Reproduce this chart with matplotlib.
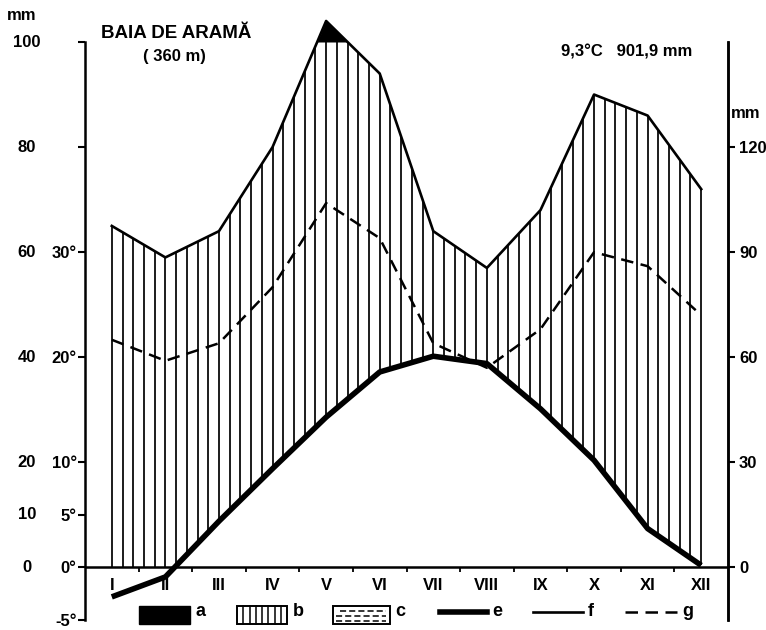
import matplotlib.pyplot as plt
import numpy as np
from matplotlib.patches import Rectangle

# climate data, Baia de Arama (360 m)
months = ['I', 'II', 'III', 'IV', 'V', 'VI', 'VII', 'VIII', 'IX', 'X', 'XI', 'XII']
temp = [-2.8, -0.9, 4.4, 9.4, 14.3, 18.6, 20.1, 19.4, 15.1, 10.2, 3.7, 0.2]
precip = [65, 59, 64, 80, 104, 94, 64, 57, 68, 90, 86, 72]

temp_ticks = [-5, 0, 5, 10, 20, 30]
temp_labels = ['-5°', '0°', '5°', '10°', '20°', '30°']
mm_left_pos = [0, 5, 10, 20, 30, 40, 50]
mm_left_labels = ['0', '10', '20', '40', '60', '80', '100']
mm_right_pos = [0, 10, 20, 30, 40]
mm_right_labels = ['0', '30', '60', '90', '120']

plt.rcParams['font.family'] = ['Liberation Sans', 'DejaVu Sans']
plt.rcParams['font.weight'] = 'bold'
FS = 12

W, H = 766, 630
fig = plt.figure(figsize=(W / 100, H / 100), dpi=100)
ax = fig.add_axes([85 / W, 10 / H, (728 - 85) / W, (620 - 42) / H])

x = np.arange(12)
t = np.array(temp)
f = np.array(precip) / 2.0   # 1 deg = 2 mm
g = np.array(precip) / 3.0   # 1 deg = 3 mm

# vertical hatching between temperature and precipitation
hx = np.arange(0, 11.01, 0.2)
lo = np.maximum(np.interp(hx, x, t), 0)
hi = np.minimum(np.interp(hx, x, f), 50)
ax.vlines(hx, lo, hi, color='black', lw=1.25)

# black area above 100 mm
ax.fill_between(x, 50, f, where=f > 50, interpolate=True, color='black', clip_on=False, lw=0)

ax.plot(x, f, color='black', lw=1.9, clip_on=False)
ax.plot(x, g, color='black', lw=1.8, linestyle=(0, (5, 3)))
ax.plot(x, t, color='black', lw=4.0, solid_capstyle='butt')
ax.axhline(0, color='black', lw=1.8)

ax.set_xlim(-0.5, 11.5)
ax.set_ylim(-5, 50)
for s in ['top', 'bottom']:
    ax.spines[s].set_visible(False)
for s in ['left', 'right']:
    ax.spines[s].set_linewidth(1.8)
ax.set_xticks([])

ax.set_yticks(temp_ticks + [40, 50])
ax.set_yticklabels(temp_labels + ['', ''], fontsize=FS, fontweight='bold')
ax.tick_params(axis='y', direction='out', length=5, width=1.5, pad=1)

for p, lab in zip(mm_left_pos, mm_left_labels):
    ax.text(-0.5 - 58 / 53.6, p, lab, ha='center', va='center', fontsize=FS, fontweight='bold')

ax2 = ax.twinx()
ax2.set_ylim(-5, 50)
ax2.set_yticks(mm_right_pos)
ax2.set_yticklabels(mm_right_labels, fontsize=FS, fontweight='bold')
ax2.tick_params(axis='y', direction='out', length=5, width=1.5, pad=3)
for s in ['top', 'bottom', 'left']:
    ax2.spines[s].set_visible(False)
ax2.spines['right'].set_linewidth(1.8)

# month boundary ticks and labels
ax.vlines(np.arange(0.5, 11, 1), -0.45, 0, color='black', lw=1.3)
for i, m in enumerate(months):
    ax.text(i, -1.75, m, ha='center', va='center', fontsize=FS, fontweight='bold')

# overlay in pixel coordinates for titles and legend
ov = fig.add_axes([0, 0, 1, 1])
ov.set_xlim(0, W)
ov.set_ylim(H, 0)
ov.axis('off')
ov.patch.set_alpha(0)

ov.text(22, 15, 'mm', ha='center', va='center', fontsize=FS, fontweight='bold')
ov.text(746, 113, 'mm', ha='center', va='center', fontsize=FS, fontweight='bold')
ov.text(176, 33, 'BAIA DE ARAMĂ', ha='center', va='center', fontsize=13.5, fontweight='bold')
ov.text(174, 57, '( 360 m)', ha='center', va='center', fontsize=FS, fontweight='bold')
ov.text(627, 52, '9,3°C   901,9 mm', ha='center', va='center', fontsize=FS, fontweight='bold')

# legend
ov.add_patch(Rectangle((139, 606), 51, 18, color='black'))
ov.text(196, 612, 'a', ha='left', va='center', fontsize=13, fontweight='bold')
ov.add_patch(Rectangle((237, 606), 50, 18, fill=False, lw=1.4))
for xx in np.linspace(237, 287, 9)[1:-1]:
    ov.plot([xx, xx], [606, 624], color='black', lw=1.1)
ov.text(293, 612, 'b', ha='left', va='center', fontsize=13, fontweight='bold')
ov.add_patch(Rectangle((333, 606), 57, 18, fill=False, lw=1.4))
for yy, x0 in [(611, 340), (616, 336), (621, 336)]:
    ov.plot([x0, 386], [yy, yy], color='black', lw=1.1, linestyle=(0, (4, 2)))
ov.text(395, 612, 'c', ha='left', va='center', fontsize=13, fontweight='bold')
ov.plot([440, 487], [612, 612], color='black', lw=4.0)
ov.text(492, 612, 'e', ha='left', va='center', fontsize=13, fontweight='bold')
ov.plot([533, 583], [612, 612], color='black', lw=1.9)
ov.text(588, 612, 'f', ha='left', va='center', fontsize=13, fontweight='bold')
ov.plot([625, 677], [612, 612], color='black', lw=1.8, linestyle=(0, (5, 3)))
ov.text(682, 612, 'g', ha='left', va='center', fontsize=13, fontweight='bold')

fig.savefig('out.png', dpi=100)
